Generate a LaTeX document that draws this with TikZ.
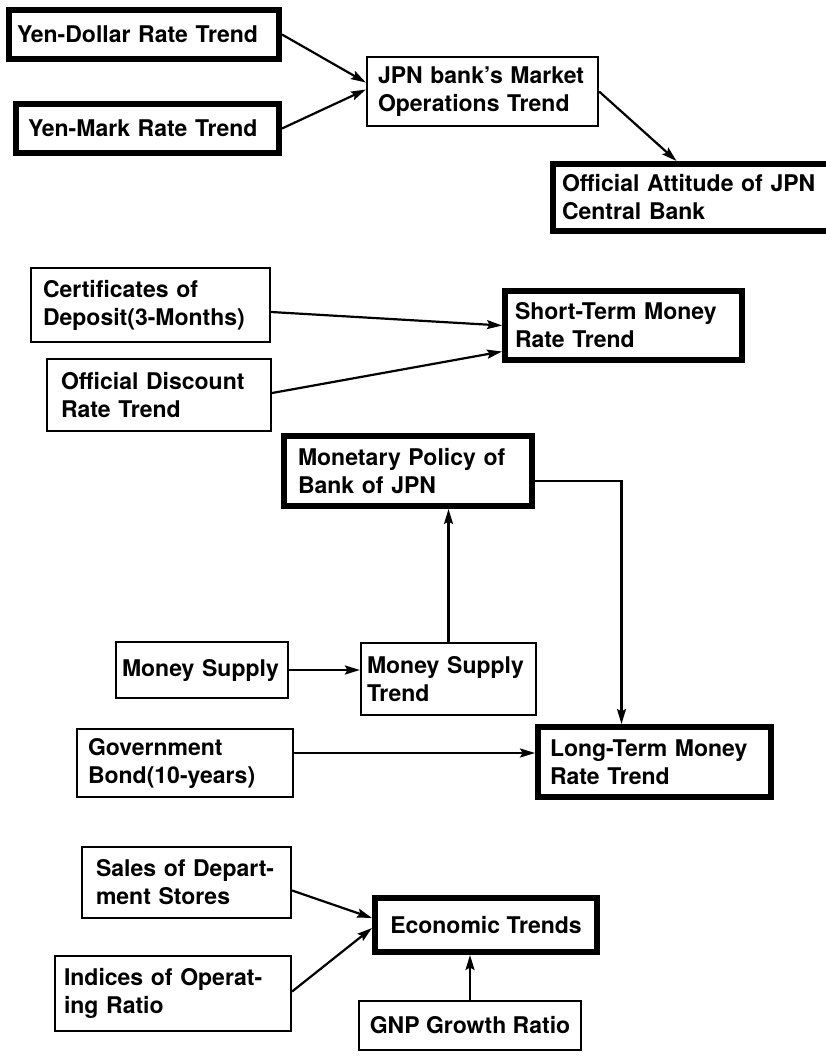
\documentclass[tikz,border=0pt]{standalone}
\usepackage{fontspec}
\setmainfont{TeX Gyre Heros}
\usetikzlibrary{arrows.meta}
\begin{document}
\begin{tikzpicture}[x=1pt,y=-1pt,
  lbl/.style={font=\fontsize{23}{28}\selectfont\bfseries, inner xsep=0pt, inner ysep=0pt, align=left},
  thinbox/.style={lbl, draw, line width=2.2pt},
  thickbox/.style={lbl, draw, line width=6pt},
  link/.style={line width=2.2pt, -{Stealth[length=15pt,width=9pt,inset=2.5pt]}},
]
\fill[white] (0,0) rectangle (826,1056);
\useasboundingbox (0,0) rectangle (826,1056);

% exchange-rate block
\node[thickbox, minimum width=270pt, minimum height=49pt, text width=254pt] (yd) at (144,34.5) {Yen-Dollar Rate Trend};
\node[thickbox, minimum width=263pt, minimum height=49pt, text width=239pt] (ym) at (147.5,128.5) {Yen-Mark Rate Trend};
\node[thinbox, minimum width=231pt, minimum height=69pt, text width=209pt] (jpn) at (482.5,91.5) {JPN bank's Market\\Operations Trend};
\node[thickbox, minimum width=287pt, minimum height=67pt, text width=269pt] (off) at (696.5,197.5) {Official Attitude of JPN\\Central Bank};

% short-term rates
\node[thinbox, minimum width=239pt, minimum height=74pt, text width=215pt] (cert) at (150.5,305) {Certificates of\\Deposit(3-Months)};
\node[thinbox, minimum width=224pt, minimum height=72pt, text width=196pt] (odr) at (159,395) {Official Discount\\Rate Trend};
\node[thickbox, minimum width=237pt, minimum height=69pt, text width=217pt] (st) at (623.5,325.5) {Short-Term Money\\Rate Trend};

% monetary policy and long-term rates
\node[thickbox, minimum width=248pt, minimum height=70pt, text width=220pt] (mp) at (408,471) {Monetary Policy of\\Bank of JPN};
\node[thinbox, minimum width=172pt, minimum height=56pt, text width=160pt] (ms) at (202,670) {Money Supply};
\node[thinbox, minimum width=175pt, minimum height=72pt, text width=163pt] (mst) at (448.5,679) {Money Supply\\Trend};
\node[thinbox, minimum width=216pt, minimum height=68pt, text width=194pt] (gb) at (185,763) {Government\\Bond(10-years)};
\node[thickbox, minimum width=233pt, minimum height=70pt, text width=209pt] (lt) at (654.5,762) {Long-Term Money\\Rate Trend};

% economy block
\node[thinbox, minimum width=209pt, minimum height=71pt, text width=181pt] (sales) at (186.5,882.5) {Sales of Depart-\\ment Stores};
\node[thinbox, minimum width=236pt, minimum height=75pt, text width=218pt] (ind) at (173,993.5) {Indices of Operat-\\ing Ratio};
\node[thickbox, minimum width=222pt, minimum height=54pt] (econ) at (486,925) {Economic Trends};
\node[thinbox, minimum width=222pt, minimum height=49pt] (gnp) at (470,1025.5) {GNP Growth Ratio};

% connectors
\draw[link] (yd.east) -- ([yshift=9pt]jpn.west);
\draw[link] (ym.east) -- ([yshift=2pt]jpn.west);
\draw[link] (jpn.east) -- ([xshift=-20pt]off.north);
\draw[link] ([yshift=-7pt]cert.east) -- (st.west);
\draw[link] ([yshift=2pt]odr.east) -- ([yshift=-26pt]st.west);
\draw[link] (ms.east) -- (ms.east -| mst.west);
\draw[link] (mst.north) -- (mst.north |- mp.south);
\draw[link] ([yshift=-10pt]mp.east) -| ([xshift=-33pt]lt.north);
\draw[link] ([yshift=10pt]gb.east) -- ([yshift=10pt]gb.east -| lt.west);
\draw[link] ([yshift=-8pt]sales.east) -- ([yshift=7pt]econ.west);
\draw[link] ([yshift=2pt]ind.east) -- ([yshift=-3pt]econ.west);
\draw[link] (gnp.north) -- (gnp.north |- econ.south);
\end{tikzpicture}
\end{document}
